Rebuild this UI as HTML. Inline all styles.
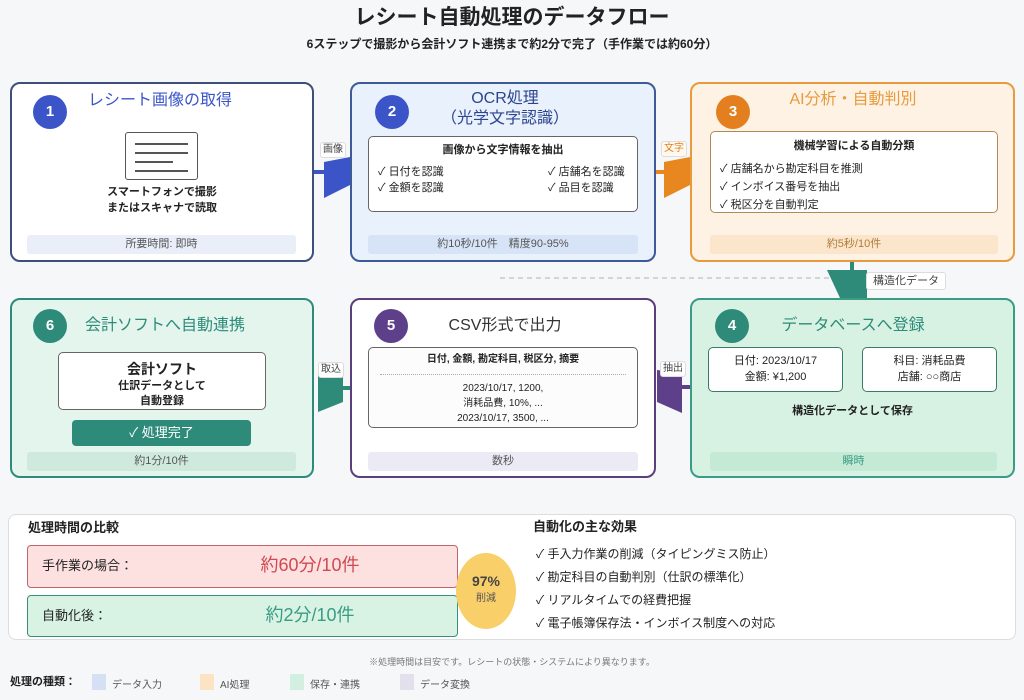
<!DOCTYPE html>
<html><head><meta charset="utf-8"><style>
*{margin:0;padding:0;box-sizing:border-box}
body{width:1024px;height:700px;background:#f6f7f8;font-family:"Liberation Sans","Noto Sans CJK JP",sans-serif;color:#222;position:relative;overflow:hidden}
.a{position:absolute}
.c{text-align:center}
.box{position:absolute;border:2px solid;border-radius:10px}
.num{position:absolute;width:34px;height:34px;border-radius:50%;color:#fff;font-weight:bold;font-size:15px;line-height:34px;text-align:center}
.h{position:absolute;font-size:16px;text-align:center;line-height:20px}
.in{position:absolute;background:#fff;border:1.5px solid #666;border-radius:5px}
.ft{position:absolute;height:19px;border-radius:3px;font-size:11px;line-height:19px;text-align:center;color:#555}
.s{font-size:11px;line-height:16px}
.lbl{position:absolute;background:#fff;border:1px solid #ddd;border-radius:3px;font-size:10px;line-height:14px;text-align:center;color:#444}
</style></head><body>
<div class="a c" style="left:0;width:1024px;top:4px;font-size:21px;font-weight:bold;line-height:28px">レシート自動処理のデータフロー</div>
<div class="a c" style="left:0;width:1024px;top:36px;font-size:12px;font-weight:bold;line-height:16px">6ステップで撮影から会計ソフト連携まで約2分で完了（手作業では約60分）</div>

<svg class="a" style="left:0;top:0" width="1024" height="700">
<line x1="500" y1="278" x2="830" y2="278" stroke="#c8c8c8" stroke-dasharray="5,4" stroke-width="1.5"/>
<line x1="312" y1="172" x2="326" y2="172" stroke="#3b55c9" stroke-width="4"/>
<polygon points="324,162 350,157 350,185 324,198" fill="#3b55c9"/>
<line x1="654" y1="172" x2="666" y2="172" stroke="#e8861f" stroke-width="4"/>
<polygon points="664,162 690,157 690,185 664,198" fill="#e8861f"/>
<line x1="852" y1="262" x2="852" y2="272" stroke="#2e8b7a" stroke-width="4"/>
<polygon points="827,270 867,270 867,298 840,298" fill="#2e8b7a"/>
<line x1="680" y1="387" x2="692" y2="387" stroke="#5d3f8a" stroke-width="4"/>
<polygon points="657,370 682,373 682,413 657,402" fill="#5d3f8a"/>
<line x1="340" y1="388" x2="352" y2="388" stroke="#2e8b7a" stroke-width="4"/>
<polygon points="318,375 343,372 343,402 318,412" fill="#2e8b7a"/>
</svg>

<!-- Box1 -->
<div class="box" style="left:10px;top:82px;width:304px;height:180px;background:#fff;border-color:#3d4f7a"></div>
<div class="num" style="left:33px;top:95px;background:#3b55c9">1</div>
<div class="h" style="left:60px;width:200px;top:91px;color:#3b55c9">レシート画像の取得</div>
<div class="a" style="left:125px;top:132px;width:73px;height:48px;border:1.5px solid #555;border-radius:3px;background:#fff"></div>
<div class="a" style="left:135px;top:143px;width:53px;height:1.5px;background:#555"></div>
<div class="a" style="left:135px;top:152px;width:53px;height:1.5px;background:#555"></div>
<div class="a" style="left:135px;top:161px;width:38px;height:1.5px;background:#555"></div>
<div class="a" style="left:135px;top:170px;width:53px;height:1.5px;background:#555"></div>
<div class="a c s" style="left:60px;width:204px;top:184px;font-weight:bold">スマートフォンで撮影<br>またはスキャナで読取</div>
<div class="ft" style="left:27px;top:235px;width:269px;background:#e9eef9">所要時間: 即時</div>

<!-- Box2 -->
<div class="box" style="left:350px;top:82px;width:306px;height:180px;background:#e8f1fc;border-color:#3d5a99"></div>
<div class="num" style="left:375px;top:95px;background:#3b55c9">2</div>
<div class="h" style="left:400px;width:210px;top:89px;color:#2d4590">OCR処理<br>（光学文字認識）</div>
<div class="in" style="left:368px;top:136px;width:270px;height:76px"></div>
<div class="a c s" style="left:368px;width:270px;top:142px;font-weight:bold">画像から文字情報を抽出</div>
<div class="a s" style="left:378px;top:164px">✓ 日付を認識<br>✓ 金額を認識</div>
<div class="a s" style="left:548px;top:164px">✓ 店舗名を認識<br>✓ 品目を認識</div>
<div class="ft" style="left:368px;top:235px;width:270px;background:#d7e4f7">約10秒/10件　精度90-95%</div>
<div class="lbl" style="left:320px;top:142px;width:26px">画像</div>

<!-- Box3 -->
<div class="box" style="left:690px;top:82px;width:325px;height:180px;background:#fdf2e3;border-color:#e89a3c"></div>
<div class="num" style="left:716px;top:95px;background:#e37f1f">3</div>
<div class="h" style="left:740px;width:226px;top:90px;color:#e89a3c">AI分析・自動判別</div>
<div class="in" style="left:710px;top:131px;width:288px;height:82px;border-color:#b08a55"></div>
<div class="a c s" style="left:710px;width:288px;top:138px;font-weight:bold">機械学習による自動分類</div>
<div class="a s" style="left:720px;top:160px;line-height:18px">✓ 店舗名から勘定科目を推測<br>✓ インボイス番号を抽出<br>✓ 税区分を自動判定</div>
<div class="ft" style="left:710px;top:235px;width:288px;background:#fbe6cc;color:#b07a3a">約5秒/10件</div>
<div class="lbl" style="left:661px;top:141px;width:26px;color:#e37f1f;background:#fff8ec">文字</div>

<div class="lbl" style="left:866px;top:272px;width:80px;height:18px;line-height:16px;font-size:11px">構造化データ</div>

<!-- Box6 -->
<div class="box" style="left:10px;top:298px;width:304px;height:180px;background:#e3f5ec;border-color:#2e8b7a"></div>
<div class="num" style="left:33px;top:309px;background:#2e8b7a">6</div>
<div class="h" style="left:65px;width:200px;top:316px;color:#2e8b7a">会計ソフトへ自動連携</div>
<div class="in" style="left:58px;top:352px;width:208px;height:58px"></div>
<div class="a c" style="left:58px;width:208px;top:360px;font-size:14px;font-weight:bold;line-height:18px">会計ソフト</div>
<div class="a c s" style="left:58px;width:208px;top:379px;line-height:15px;font-weight:bold">仕訳データとして<br>自動登録</div>
<div class="a c" style="left:72px;top:420px;width:179px;height:26px;background:#2e8b7a;color:#fff;border-radius:4px;font-size:13px;line-height:26px">✓ 処理完了</div>
<div class="ft" style="left:27px;top:452px;width:269px;background:#cfeadc">約1分/10件</div>
<div class="lbl" style="left:318px;top:362px;width:26px">取込</div>

<!-- Box5 -->
<div class="box" style="left:350px;top:298px;width:306px;height:180px;background:#fff;border-color:#5a3f7a"></div>
<div class="num" style="left:374px;top:309px;background:#5d3f8a">5</div>
<div class="h" style="left:400px;width:210px;top:316px;color:#333">CSV形式で出力</div>
<div class="in" style="left:368px;top:347px;width:270px;height:81px;background:#fcfcfd"></div>
<div class="a c" style="left:368px;width:270px;top:353px;font-size:10px;line-height:14px;font-weight:bold">日付, 金額, 勘定科目, 税区分, 摘要</div>
<div class="a" style="left:380px;top:374px;width:246px;border-top:1px dotted #aaa"></div>
<div class="a c" style="left:368px;width:270px;top:381px;font-size:10px;line-height:15px">2023/10/17, 1200,<br>消耗品費, 10%, ...<br>2023/10/17, 3500, ...</div>
<div class="ft" style="left:368px;top:452px;width:270px;background:#ecebf5">数秒</div>
<div class="lbl" style="left:660px;top:361px;width:26px">抽出</div>

<!-- Box4 -->
<div class="box" style="left:690px;top:298px;width:325px;height:180px;background:#d7f2e2;border-color:#3a9c84"></div>
<div class="num" style="left:715px;top:309px;background:#2e8b7a">4</div>
<div class="h" style="left:740px;width:226px;top:316px;color:#2e8b7a">データベースへ登録</div>
<div class="in" style="left:708px;top:347px;width:135px;height:45px;border-color:#3a7a6a"></div>
<div class="a c s" style="left:708px;width:135px;top:353px">日付: 2023/10/17<br>金額: ¥1,200</div>
<div class="in" style="left:862px;top:347px;width:135px;height:45px;border-color:#3a7a6a"></div>
<div class="a c s" style="left:862px;width:135px;top:353px">科目: 消耗品費<br>店舗: ○○商店</div>
<div class="a c s" style="left:690px;width:325px;top:403px;font-weight:bold">構造化データとして保存</div>
<div class="ft" style="left:710px;top:452px;width:287px;background:#c4ead6;color:#3a9c84">瞬時</div>

<!-- Bottom panel -->
<div class="a" style="left:8px;top:514px;width:1008px;height:126px;background:#fff;border:1.5px solid #ddd;border-radius:8px"></div>
<div class="a" style="left:28px;top:519px;font-size:13px;font-weight:bold;line-height:18px">処理時間の比較</div>
<div class="a" style="left:27px;top:545px;width:431px;height:43px;background:#fde0e0;border:1.5px solid #c0646a;border-radius:4px"></div>
<div class="a" style="left:42px;top:557px;font-size:13px;line-height:18px">手作業の場合：</div>
<div class="a c" style="left:230px;width:160px;top:553px;font-size:18px;color:#d04a50;line-height:24px">約60分/10件</div>
<div class="a" style="left:27px;top:595px;width:431px;height:42px;background:#d8f3e4;border:1.5px solid #3a8f7c;border-radius:4px"></div>
<div class="a" style="left:42px;top:607px;font-size:13px;line-height:18px">自動化後：</div>
<div class="a c" style="left:230px;width:160px;top:603px;font-size:18px;color:#3a9c84;line-height:24px">約2分/10件</div>
<div class="a c" style="left:456px;top:553px;width:60px;height:76px;border-radius:50%;background:#f9cf6a"></div>
<div class="a c" style="left:456px;width:60px;top:572px;font-size:14px;font-weight:bold;line-height:18px;color:#444">97%</div>
<div class="a c" style="left:456px;width:60px;top:592px;font-size:10px;line-height:14px;color:#555">削減</div>
<div class="a" style="left:533px;top:518px;font-size:13px;font-weight:bold;line-height:18px">自動化の主な効果</div>
<div class="a" style="left:536px;top:543px;font-size:12px;line-height:23px">✓ 手入力作業の削減（タイピングミス防止）<br>✓ 勘定科目の自動判別（仕訳の標準化）<br>✓ リアルタイムでの経費把握<br>✓ 電子帳簿保存法・インボイス制度への対応</div>

<div class="a c" style="left:0;width:1024px;top:656px;font-size:9px;color:#777;line-height:12px">※処理時間は目安です。レシートの状態・システムにより異なります。</div>
<div class="a" style="left:10px;top:675px;font-size:11px;font-weight:bold;line-height:14px">処理の種類：</div>
<div class="a" style="left:92px;top:674px;width:14px;height:16px;background:#d6e0f5"></div>
<div class="a" style="left:112px;top:676px;font-size:10px;color:#555">データ入力</div>
<div class="a" style="left:200px;top:674px;width:14px;height:16px;background:#fbe3c3"></div>
<div class="a" style="left:220px;top:676px;font-size:10px;color:#555">AI処理</div>
<div class="a" style="left:290px;top:674px;width:14px;height:16px;background:#d3efe1"></div>
<div class="a" style="left:310px;top:676px;font-size:10px;color:#555">保存・連携</div>
<div class="a" style="left:400px;top:674px;width:14px;height:16px;background:#e3e0ee"></div>
<div class="a" style="left:420px;top:676px;font-size:10px;color:#555">データ変換</div>
</body></html>
